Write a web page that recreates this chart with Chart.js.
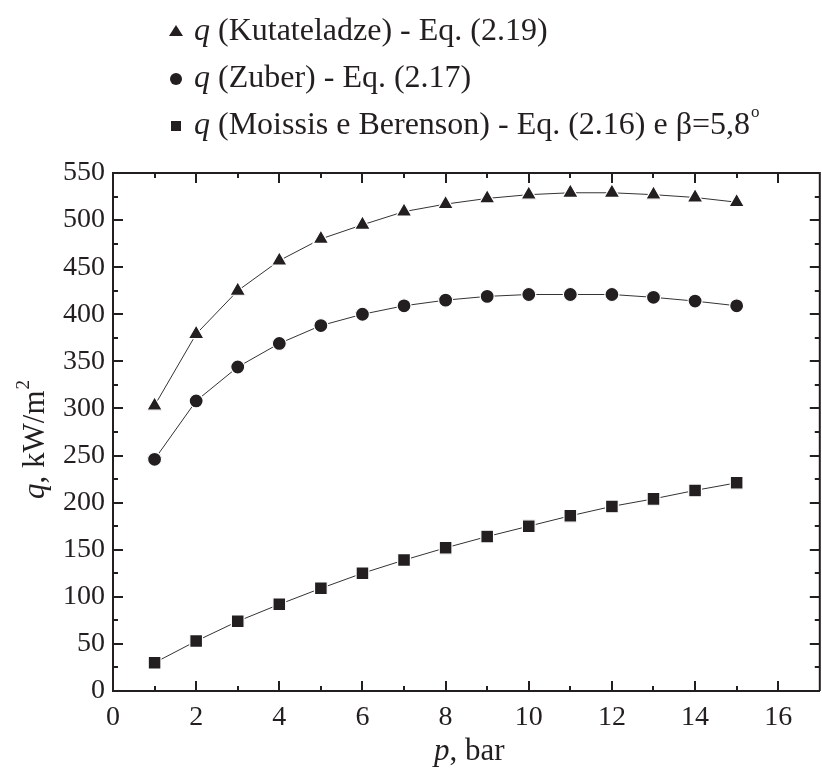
<!DOCTYPE html>
<html>
<head>
<meta charset="utf-8">
<script src="https://cdn.jsdelivr.net/npm/chart.js@4/dist/chart.umd.min.js"></script>
<style>
html,body{margin:0;padding:0;background:#fff;overflow:hidden;width:822px;height:775px;}
canvas{display:block;}
</style>
</head>
<body>
<canvas id="c" width="830" height="775" style="width:830px;height:775px"></canvas>
<script>
// ---- data ----
const pressureBar = [1, 2, 3, 4, 5, 6, 7, 8, 9, 10, 11, 12, 13, 14, 15];
const qKutateladze = [303, 379, 425, 457, 480, 495, 509, 517, 523, 527, 529, 529, 527, 524, 519];
const qZuber = [246, 308, 344, 369, 388, 400, 409, 415, 419, 421, 421, 421, 418, 414, 409];
const qMoissis = [30, 53, 74, 92, 109, 125, 139, 152, 164, 175, 186, 196, 204, 213, 221];
const xTickLabels = [0, 2, 4, 6, 8, 10, 12, 14, 16];
const yTickLabels = [0, 50, 100, 150, 200, 250, 300, 350, 400, 450, 500, 550];

const INK = '#231f20';
const FONT = "'Liberation Serif', 'Times New Roman', serif";

function pts(ys) { return pressureBar.map((x, i) => ({x: x, y: ys[i]})); }

function ds(label, ys, style, radius) {
  return {
    label: label, data: pts(ys),
    borderColor: '#333', borderWidth: 1,
    pointStyle: style, pointRadius: radius, pointHoverRadius: radius,
    pointBackgroundColor: INK, pointBorderColor: '#fff', pointBorderWidth: 1.2,
    showLine: true, tension: 0
  };
}

const framePlugin = {
  id: 'frame',
  afterDraw(chart) {
    const ctx = chart.ctx, a = chart.chartArea;
    const xs = chart.scales.x, ys = chart.scales.y;
    ctx.save();
    ctx.strokeStyle = INK; ctx.lineWidth = 2; ctx.lineCap = 'butt';
    ctx.beginPath();
    ctx.moveTo(a.left, a.top); ctx.lineTo(a.right, a.top); ctx.lineTo(a.right, a.bottom);
    ctx.stroke();
    // inward ticks on all four sides
    ctx.beginPath();
    for (let v = 1; v < 17; v++) {
      const px = Math.round(xs.getPixelForValue(v));
      const len = (v % 2 === 0) ? 10 : 5;
      ctx.moveTo(px, a.bottom); ctx.lineTo(px, a.bottom - len);
      ctx.moveTo(px, a.top); ctx.lineTo(px, a.top + len);
    }
    for (let v = 25; v < 550; v += 25) {
      const py = Math.round(ys.getPixelForValue(v));
      const len = (v % 50 === 0) ? 10 : 5;
      ctx.moveTo(a.left, py); ctx.lineTo(a.left + len, py);
      ctx.moveTo(a.right, py); ctx.lineTo(a.right - len, py);
    }
    ctx.stroke();

    // axis titles
    ctx.fillStyle = INK;
    ctx.textBaseline = 'alphabetic';
    // x title "p, bar"
    const xf = '31px ' + FONT, xfi = 'italic 31px ' + FONT;
    ctx.font = xfi; const wp = ctx.measureText('p').width;
    ctx.font = xf; const wr = ctx.measureText(', bar').width;
    let x0 = (a.left + a.right) / 2 + 3 - (wp + wr) / 2;
    ctx.font = xfi; ctx.fillText('p', x0, 760);
    ctx.font = xf; ctx.fillText(', bar', x0 + wp, 760);

    // y title "q, kW/m²"
    ctx.save();
    ctx.translate(44, 440);
    ctx.rotate(-Math.PI / 2);
    ctx.font = xfi; const wq = ctx.measureText('q').width;
    ctx.font = xf; const wm = ctx.measureText(', kW/m').width;
    ctx.font = '19px ' + FONT; const w2 = ctx.measureText('2').width;
    let s = -(wq + wm + w2) / 2;
    ctx.font = xfi; ctx.fillText('q', s, 0);
    ctx.font = xf; ctx.fillText(', kW/m', s + wq, 0);
    ctx.font = '19px ' + FONT; ctx.fillText('2', s + wq + wm + 1, -15);
    ctx.restore();

    // legend
    const lf = '32px ' + FONT, lfi = 'italic 32px ' + FONT;
    const items = [
      {style: 'triangle', y: 40, text: ' (Kutateladze) - Eq. (2.19)'},
      {style: 'circle', y: 87, text: ' (Zuber) - Eq. (2.17)'},
      {style: 'rect', y: 134, text: ' (Moissis e Berenson) - Eq. (2.16) e \u03b2=5,8'}
    ];
    items.forEach((it, i) => {
      const mx = 176, my = it.y - 8;
      ctx.fillStyle = INK;
      ctx.beginPath();
      if (it.style === 'triangle') {
        ctx.moveTo(mx, my - 7); ctx.lineTo(mx + 7, my + 4); ctx.lineTo(mx - 7, my + 4); ctx.closePath();
      } else if (it.style === 'circle') {
        ctx.arc(mx, my, 6, 0, Math.PI * 2);
      } else {
        ctx.rect(mx - 5, my - 5, 10, 10);
      }
      ctx.fill();
      ctx.font = lfi; ctx.fillText('q', 194, it.y);
      const wq2 = ctx.measureText('q').width;
      ctx.font = lf; ctx.fillText(it.text, 194 + wq2, it.y);
      if (i === 2) {
        const wt = ctx.measureText(it.text).width;
        ctx.font = '17px ' + FONT;
        ctx.fillText('o', 194 + wq2 + wt + 1, it.y - 17);
      }
    });
    ctx.restore();
  }
};

new Chart(document.getElementById('c'), {
  type: 'scatter',
  data: {
    datasets: [
      ds('q (Kutateladze) - Eq. (2.19)', qKutateladze, 'triangle', 9),
      ds('q (Zuber) - Eq. (2.17)', qZuber, 'circle', 7),
      ds('q (Moissis e Berenson) - Eq. (2.16) e β=5,8°', qMoissis, 'rect', 9)
    ]
  },
  options: {
    responsive: false,
    animation: false,
    layout: {padding: {top: 173, right: 7, left: 0, bottom: 0}},
    plugins: {legend: {display: false}, tooltip: {enabled: false}},
    scales: {
      x: {
        type: 'linear', min: 0, max: 17,
        afterFit(s) { s.height = 84; },
        grid: {display: false, drawTicks: false},
        border: {display: true, color: INK, width: 2},
        ticks: {
          stepSize: 1, autoSkip: false, maxRotation: 0, padding: 10,
          color: INK, font: {family: FONT, size: 28},
          callback: v => xTickLabels.includes(v) ? String(v) : ''
        }
      },
      y: {
        type: 'linear', min: 0, max: 550,
        afterFit(s) { s.width = 113; },
        grid: {display: false, drawTicks: false},
        border: {display: true, color: INK, width: 2},
        ticks: {
          stepSize: 25, autoSkip: false, padding: 8,
          color: INK, font: {family: FONT, size: 28},
          callback: v => yTickLabels.includes(v) ? String(v) : ''
        }
      }
    }
  },
  plugins: [framePlugin]
});
</script>
</body>
</html>
